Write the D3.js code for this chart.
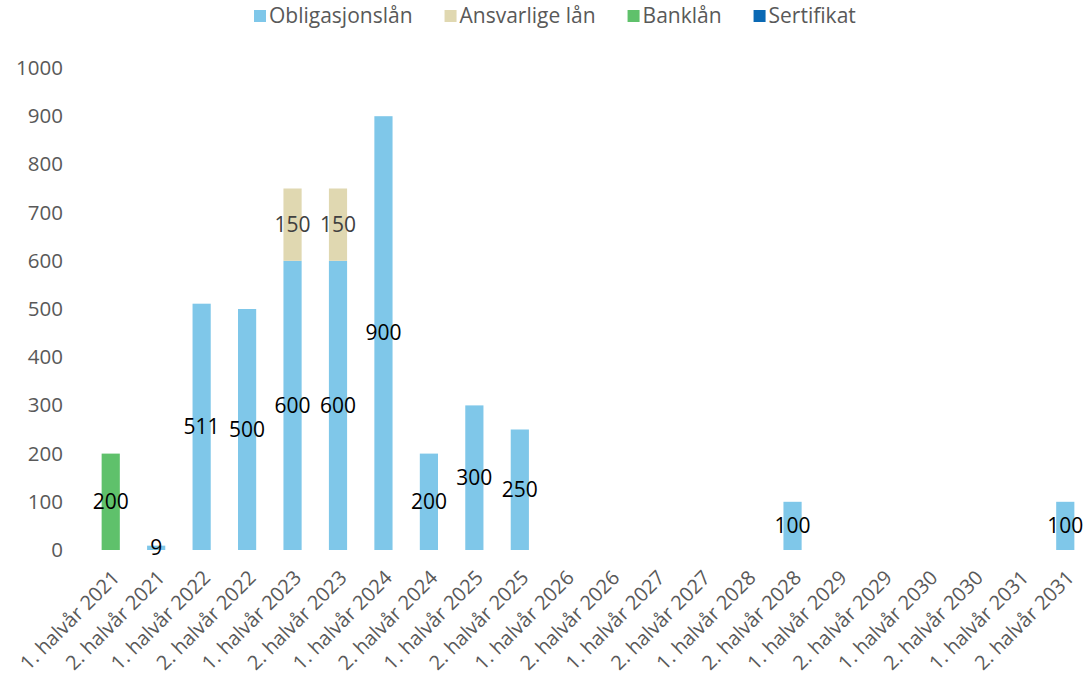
<!DOCTYPE html>
<html>
<head>
<meta charset="utf-8">
<script src="https://cdn.jsdelivr.net/npm/d3@7"></script>
<style>
  body { margin: 0; background: #fff; }
  svg { display: block; font-family: "Open Sans", sans-serif; }
</style>
</head>
<body>
<div id="chart"></div>
<script>
// categories (half-years)
const categories = [
  "1. halvår 2021", "2. halvår 2021", "1. halvår 2022", "2. halvår 2022",
  "1. halvår 2023", "2. halvår 2023", "1. halvår 2024", "2. halvår 2024",
  "1. halvår 2025", "2. halvår 2025", "1. halvår 2026", "2. halvår 2026",
  "1. halvår 2027", "2. halvår 2027", "1. halvår 2028", "2. halvår 2028",
  "1. halvår 2029", "2. halvår 2029", "1. halvår 2030", "2. halvår 2030",
  "1. halvår 2031", "2. halvår 2031"
];

const seriesNames = ["Obligasjonslån", "Ansvarlige lån", "Banklån", "Sertifikat"];

const obligasjonslan = [0, 9, 511, 500, 600, 600, 900, 200, 300, 250, 0, 0, 0, 0, 0, 100, 0, 0, 0, 0, 0, 100];
const ansvarligeLan  = [0, 0, 0, 0, 150, 150, 0, 0, 0, 0, 0, 0, 0, 0, 0, 0, 0, 0, 0, 0, 0, 0];
const banklan        = [200, 0, 0, 0, 0, 0, 0, 0, 0, 0, 0, 0, 0, 0, 0, 0, 0, 0, 0, 0, 0, 0];
const sertifikat     = [0, 0, 0, 0, 0, 0, 0, 0, 0, 0, 0, 0, 0, 0, 0, 0, 0, 0, 0, 0, 0, 0];

const yTicks = [0, 100, 200, 300, 400, 500, 600, 700, 800, 900, 1000];

const colors = ["#7fc7e9", "#e0d8b1", "#5fc16b", "#0a69b4"];
const labelColors = ["#000000", "#404040", "#000000", "#000000"];

const width = 1084, height = 683;
const margin = { top: 68, bottom: 133, left: 88, right: -4 };

// build table for the stack layout
const table = categories.map((c, i) => ({
  cat: c,
  "Obligasjonslån": obligasjonslan[i],
  "Ansvarlige lån": ansvarligeLan[i],
  "Banklån": banklan[i],
  "Sertifikat": sertifikat[i],
}));

const stacked = d3.stack().keys(seriesNames)(table);

const svg = d3.select("#chart").append("svg")
  .attr("width", width)
  .attr("height", height);

const xScale = d3.scaleBand()
  .domain(categories)
  .range([margin.left, width - margin.right])
  .paddingInner(0.6)
  .paddingOuter(0.3);

const yScale = d3.scaleLinear()
  .domain([0, 1000])
  .range([height - margin.bottom, margin.top]);

// bars
const layers = svg.append("g")
  .selectAll("g")
  .data(stacked)
  .join("g")
  .attr("fill", (d, i) => colors[i]);

layers.selectAll("rect")
  .data((d) => d.filter((p) => p[1] - p[0] > 0))
  .join("rect")
  .attr("x", (d) => xScale(d.data.cat))
  .attr("y", (d) => yScale(d[1]))
  .attr("width", xScale.bandwidth())
  .attr("height", (d) => yScale(d[0]) - yScale(d[1]));

// data labels
stacked.forEach((layer, li) => {
  svg.append("g")
    .selectAll("text")
    .data(layer.filter((p) => p[1] - p[0] > 0))
    .join("text")
    .attr("x", (d) => xScale(d.data.cat) + xScale.bandwidth() / 2)
    .attr("y", (d) => yScale((d[0] + d[1]) / 2))
    .attr("dy", "0.35em")
    .attr("text-anchor", "middle")
    .style("font-size", "21px")
    .style("fill", labelColors[li])
    .text((d) => d[1] - d[0]);
});

// y axis
const yAxis = d3.axisLeft(yScale)
  .tickValues(yTicks)
  .tickFormat(d3.format("d"))
  .tickSize(0)
  .tickPadding(0);
const yGroup = svg.append("g")
  .attr("transform", `translate(63, 0)`)
  .call(yAxis);
yGroup.select(".domain").remove();
yGroup.selectAll("text")
  .style("font-size", "20.5px")
  .style("font-family", "Open Sans, sans-serif")
  .attr("fill", "#595959");

// x axis
const xAxis = d3.axisBottom(xScale).tickSize(0).tickPadding(0);
const xGroup = svg.append("g")
  .attr("transform", `translate(0, ${height - margin.bottom})`)
  .call(xAxis);
xGroup.select(".domain").remove();
xGroup.selectAll("text")
  .style("text-anchor", "end")
  .style("font-size", "20px")
  .style("font-family", "Open Sans, sans-serif")
  .attr("fill", "#595959")
  .attr("dy", "0")
  .attr("y", 0)
  .attr("transform", "translate(10, 29) rotate(-45)");

// legend
const legend = svg.append("g").attr("transform", "translate(0, 16)");
const items = legend.selectAll("g")
  .data(seriesNames)
  .join("g");
items.append("rect")
  .attr("width", 12)
  .attr("height", 12)
  .attr("y", -6)
  .attr("fill", (d, i) => colors[i]);
items.append("text")
  .attr("x", 15)
  .attr("dy", "0.35em")
  .style("font-size", "21px")
  .style("fill", "#595959")
  .text((d) => d);

let lx = 254;
items.each(function () {
  const w = this.getBBox().width;
  d3.select(this).attr("transform", `translate(${lx}, 0)`);
  lx += w + 32;
});
</script>
</body>
</html>
